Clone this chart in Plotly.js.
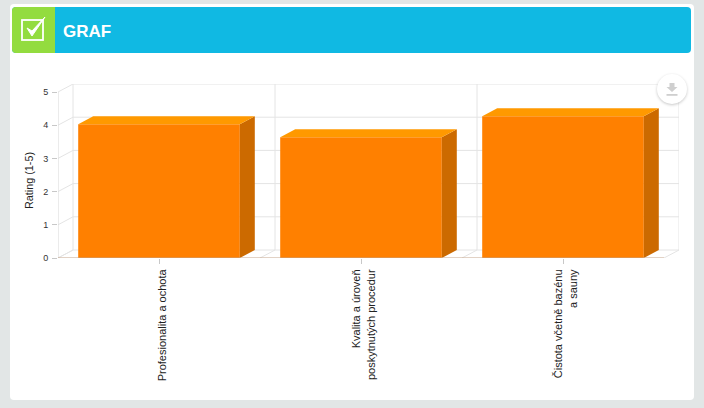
<!DOCTYPE html>
<html>
<head>
<meta charset="utf-8">
<script src="https://cdn.plot.ly/plotly-3.0.1.min.js"></script>
<style>
html,body{margin:0;padding:0;width:704px;height:408px;overflow:hidden;background:#e2e6e6}
#card{position:absolute;left:10px;top:4px;width:684px;height:396px;background:#fff;border-radius:4px}
#head{position:absolute;left:12px;top:7px;width:679px;height:46px;background:#10b9e3;border-radius:4px;overflow:hidden}
#tick{position:absolute;left:0;top:0;width:43px;height:46px;background:#93dc3f}
#chart{position:absolute;left:0;top:0;width:704px;height:408px}
#dl{position:absolute;left:657px;top:74px;width:30px;height:30px;border-radius:50%;background:#fff;box-shadow:0 1px 3px rgba(0,0,0,.22)}
</style>
</head>
<body>
<div id="card"></div>
<div id="head"><div id="tick">
<svg width="43" height="46" viewBox="0 0 43 46">
<rect x="10" y="13" width="21" height="20" fill="none" stroke="#fff" stroke-width="1.8"/>
<path d="M15 21 L20 29 L33 10 L20 24 Z" fill="#fff" stroke="#fff" stroke-width="1"/>
</svg></div></div>
<div id="chart"></div>
<div id="dl"><svg width="30" height="30" viewBox="0 0 30 30">
<path d="M12.5 9 h5 v4 h3 L15 18 L9.5 13 h3 Z" fill="#cfcfcf"/>
<rect x="9.5" y="20" width="11" height="1.8" fill="#cfcfcf"/>
</svg></div>
<script>
var categories = ["Profesionalita a ochota", "Kvalita a úroveň<br>poskytnutých procedur", "Čistota včetně bazénu<br>a sauny"];
var ratings = [4.03, 3.64, 4.27];
var yTicks = [0, 1, 2, 3, 4, 5];

var DX = 15 / 202, DY = 8 / 33.2, HALF = 0.4;
var idx = categories.map(function (_, i) { return i; });
var GRID = "#e4e4e4";

function line(x0, y0, x1, y1, c, layer) {
  return {type: "line", xref: "x", yref: "y", x0: x0, y0: y0, x1: x1, y1: y1,
          layer: layer || "below", line: {color: c || GRID, width: 1}};
}
var shapes = [];
yTicks.forEach(function (t) {
  shapes.push(line(-0.5 + DX, t + DY, 2.5 + DX, t + DY));
  shapes.push(line(-0.5, t, -0.5 + DX, t + DY));
});
[-0.5, 0.5, 1.5, 2.5].forEach(function (b) {
  shapes.push(line(b + DX, DY, b + DX, 5 + DY));
  shapes.push(line(b, 0, b + DX, DY));
});
shapes.push(line(-0.5, 0, -0.5, 5, "#d8d8d8"));
shapes.push(line(-0.5, 0, 2.5, 0, "#c4a58a", "above"));

function face(xs, ys, color) {
  return {type: "scatter", mode: "lines", x: xs, y: ys, fill: "toself", fillcolor: color,
          line: {width: 0, color: color}, hoverinfo: "skip", showlegend: false};
}
var traces = [{
  type: "bar", x: idx, y: ratings, width: 2 * HALF, marker: {color: "#ff8000"},
  showlegend: false, hoverinfo: "y"
}];
ratings.forEach(function (v, i) {
  var l = i - HALF, r = i + HALF;
  traces.push(face([r, r + DX, r + DX, r, r], [0, DY, v + DY, v, 0], "#cc6a00"));
  traces.push(face([l, l + DX, r + DX, r, l], [v, v + DY, v + DY, v, v], "#ff9900"));
});

var layout = {
  width: 704, height: 408,
  paper_bgcolor: "rgba(0,0,0,0)", plot_bgcolor: "rgba(0,0,0,0)",
  margin: {l: 58, r: 25, t: 84, b: 150, pad: 0},
  font: {family: "Liberation Sans, Arial, sans-serif", size: 10, color: "#222"},
  showlegend: false, bargap: 0.2,
  title: {text: "<b>GRAF</b>", x: (63 - 58) / 621, xanchor: "left", y: 1 - 31 / 408, yanchor: "middle",
          xref: "paper", font: {size: 17, color: "#fff", family: "Liberation Sans, Arial, sans-serif"}},
  xaxis: {
    range: [-0.5, 2.5 + DX], tickmode: "array", tickvals: idx, ticktext: categories,
    tickangle: -90, ticks: "outside", ticklen: 5, tickcolor: "#c8c8c8", tickwidth: 1,
    ticklabelshift: 3, ticklabelstandoff: 1,
    showgrid: false, zeroline: false, showline: false,
    tickfont: {size: 11, color: "#222"}, automargin: false
  },
  yaxis: {
    range: [0, 5 + DY], tickmode: "array", tickvals: yTicks,
    ticks: "outside", ticklen: 5, tickcolor: "#c8c8c8", tickwidth: 1, ticklabelstandoff: 2,
    showgrid: false, zeroline: false, showline: false,
    tickfont: {size: 9, color: "#333"}, automargin: false
  },
  annotations: [{
    text: "Rating (1-5)", textangle: -90, showarrow: false,
    xref: "paper", yref: "paper", x: (29 - 58) / 621, y: (258 - 181) / 174,
    xanchor: "center", yanchor: "middle", font: {size: 10.8, color: "#222"}
  }],
  shapes: shapes
};
Plotly.newPlot("chart", traces, layout, {displayModeBar: false, staticPlot: true});
</script>
</body>
</html>
